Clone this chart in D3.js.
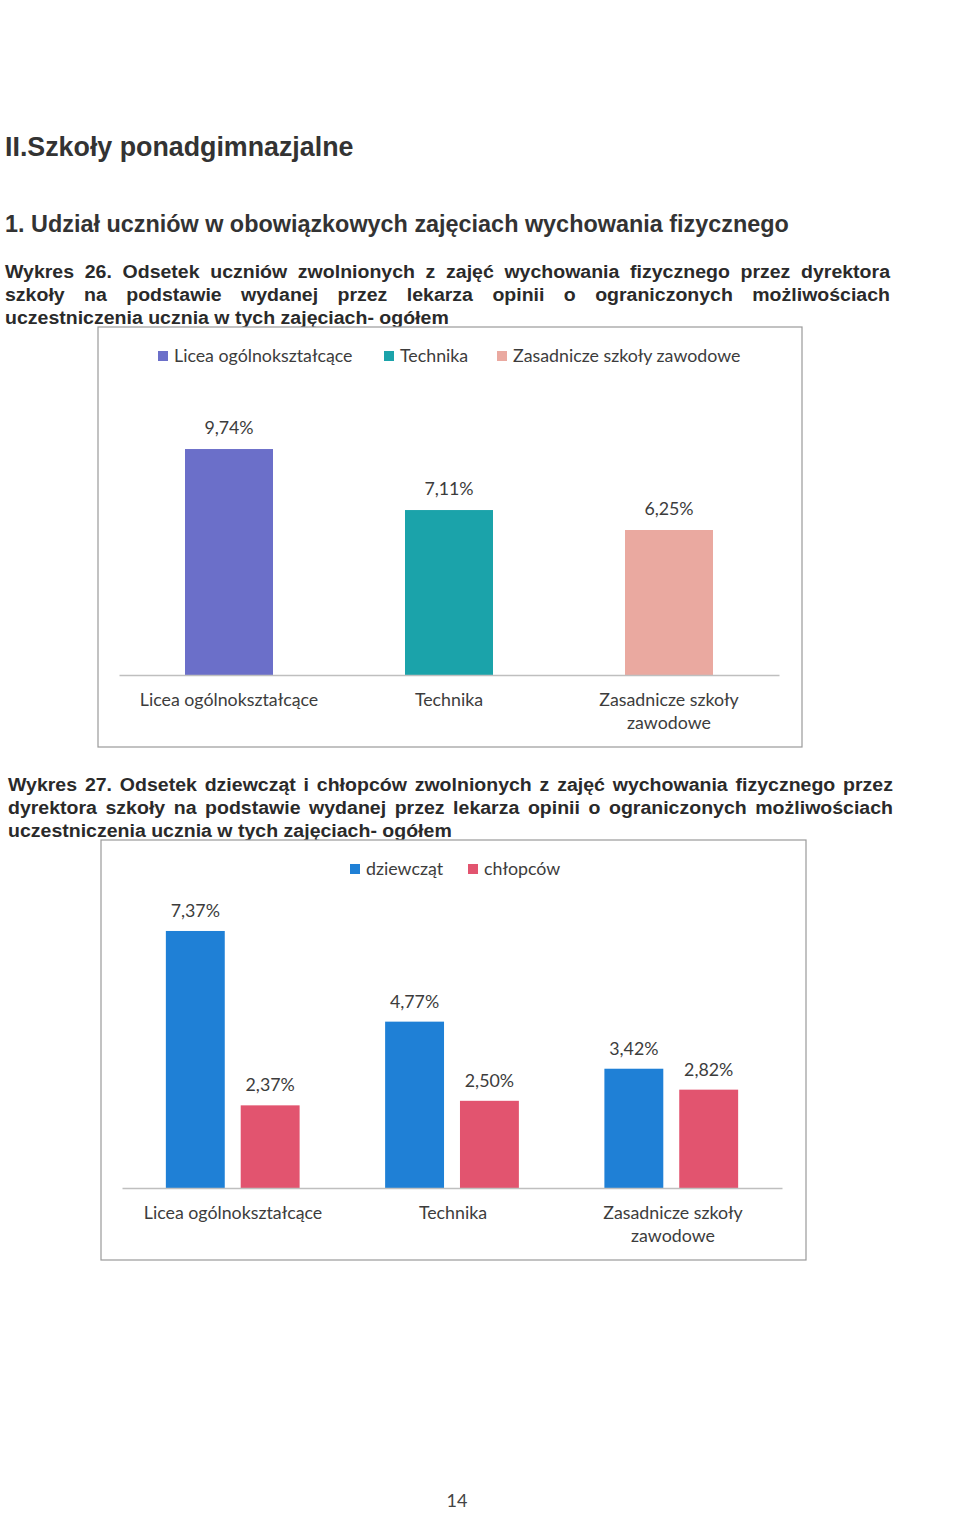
<!DOCTYPE html>
<html><head><meta charset="utf-8">
<script src="https://cdn.jsdelivr.net/npm/d3@7"></script>
<style>body{margin:0;background:#fff}svg{display:block}</style>
</head><body>
<svg id="page" width="960" height="1520"></svg>
<script>
// ---------- data ----------
const categories = ["Licea ogólnokształcące", "Technika", "Zasadnicze szkoły zawodowe"];
const categoryLines = [["Licea ogólnokształcące"], ["Technika"], ["Zasadnicze szkoły", "zawodowe"]];
const totalValues = [9.74, 7.11, 6.25];
const genderSeries = ["dziewcząt", "chłopców"];
const girlsValues = [7.37, 4.77, 3.42];
const boysValues = [2.37, 2.50, 2.82];

const chart1Colors = ["#6b6fc9", "#1ba3aa", "#eaa9a0"];
const chart2Colors = ["#1f80d6", "#e2546f"];

const heading1 = "II.Szkoły ponadgimnazjalne";
const heading2 = "1. Udział uczniów w obowiązkowych zajęciach wychowania fizycznego";
const caption26 = ["Wykres 26. Odsetek uczniów zwolnionych z zajęć wychowania fizycznego przez dyrektora",
  "szkoły na podstawie wydanej przez lekarza opinii o ograniczonych możliwościach",
  "uczestniczenia ucznia w tych zajęciach- ogółem"];
const caption27 = ["Wykres 27. Odsetek dziewcząt i chłopców zwolnionych z zajęć wychowania fizycznego przez",
  "dyrektora szkoły na podstawie wydanej przez lekarza opinii o ograniczonych możliwościach",
  "uczestniczenia ucznia w tych zajęciach- ogółem"];

const fmt = v => d3.format(".2f")(v).replace(".", ",") + "%";

const svg = d3.select("#page");
const docFont = "'Liberation Sans', Arial, sans-serif";
const chartFont = "Lato, 'Open Sans', sans-serif";
const chartText = "#3c3c3c";
const chartSize = 17.8;

svg.append("text").attr("x", 5).attr("y", 156).attr("font-family", docFont)
  .attr("font-weight", "bold").attr("font-size", 26.8).attr("fill", "#333").text(heading1);
svg.append("text").attr("x", 5).attr("y", 232).attr("font-family", docFont)
  .attr("font-weight", "bold").attr("font-size", 23.4).attr("fill", "#333").text(heading2);

function caption(lines, x0, x1, y0, lastWidth) {
  const g = svg.append("g").attr("font-family", docFont).attr("font-weight", "bold")
    .attr("font-size", 19).attr("fill", "#2a2a2a");
  // measure last line to derive the condensed horizontal scale
  const probe = g.append("text").text(lines[lines.length - 1]);
  const sx = lastWidth / probe.node().getComputedTextLength();
  probe.remove();
  g.attr("transform", `translate(${x0},0) scale(${sx},1)`);
  const W = (x1 - x0) / sx;
  lines.forEach((line, li) => {
    const y = y0 + li * 23;
    const words = line.split(" ");
    const nodes = words.map(w => g.append("text").attr("y", y).text(w));
    const widths = nodes.map(n => n.node().getComputedTextLength());
    const justify = li < lines.length - 1;
    const space = justify ? (W - d3.sum(widths)) / (words.length - 1) : 5.3;
    let x = 0;
    nodes.forEach((n, i) => { n.attr("x", x); x += widths[i] + space; });
  });
}
caption(caption26, 5, 890, 278, 444);
caption(caption27, 8, 893, 791, 444);

// ---------- chart 1 ----------
(function () {
  const fx = 98, fy = 327, fw = 704, fh = 420;
  svg.append("rect").attr("x", fx).attr("y", fy).attr("width", fw).attr("height", fh)
    .attr("fill", "#fff").attr("stroke", "#9a9a9a").attr("stroke-width", 1.2);
  const x = d3.scaleBand().domain(categories).range([119, 779]).paddingInner(0.6).paddingOuter(0.3);
  const y = d3.scaleLinear().domain([0, 10]).range([675, 443]);
  svg.append("g").selectAll("rect").data(totalValues).join("rect")
    .attr("x", (d, i) => x(categories[i])).attr("width", x.bandwidth())
    .attr("y", d => y(d)).attr("height", d => y(0) - y(d))
    .attr("fill", (d, i) => chart1Colors[i]);
  svg.append("g").selectAll("text").data(totalValues).join("text")
    .attr("x", (d, i) => x(categories[i]) + x.bandwidth() / 2).attr("y", d => y(d) - 15)
    .attr("text-anchor", "middle").attr("font-family", chartFont).attr("font-size", chartSize)
    .attr("fill", chartText).text(d => fmt(d));
  const axis = svg.append("g").attr("transform", `translate(0,${y(0)})`)
    .call(d3.axisBottom(x).tickSize(0).tickFormat(""));
  axis.select(".domain").attr("stroke", "#bfbfbf").attr("stroke-width", 1.3);
  categories.forEach((c, i) => {
    const cx = x(c) + x.bandwidth() / 2;
    const t = svg.append("text").attr("y", 706)
      .attr("text-anchor", "middle").attr("font-family", chartFont).attr("font-size", chartSize).attr("fill", chartText);
    categoryLines[i].forEach((l, j) => t.append("tspan").attr("x", cx).attr("dy", j ? 23 : 0).text(l));
  });
  const legendX = [158, 384, 497];
  categories.forEach((c, i) => {
    svg.append("rect").attr("x", legendX[i]).attr("y", 351).attr("width", 10).attr("height", 10).attr("fill", chart1Colors[i]);
    svg.append("text").attr("x", legendX[i] + 16).attr("y", 362).attr("font-family", chartFont)
      .attr("font-size", chartSize).attr("fill", chartText).text(c);
  });
})();

// ---------- chart 2 ----------
(function () {
  const fx = 101, fy = 840, fw = 705, fh = 420;
  svg.append("rect").attr("x", fx).attr("y", fy).attr("width", fw).attr("height", fh)
    .attr("fill", "#fff").attr("stroke", "#9a9a9a").attr("stroke-width", 1.2);
  const x0 = d3.scaleBand().domain(categories).range([122, 782]).paddingInner(0.39).paddingOuter(0.2);
  const x1 = d3.scaleBand().domain(genderSeries).range([0, x0.bandwidth()]).paddingInner(0.213);
  const y = d3.scaleLinear().domain([0, 8]).range([1188, 909]);
  const rows = categories.map((c, i) => ({ c, vals: [girlsValues[i], boysValues[i]] }));
  const grp = svg.append("g").selectAll("g").data(rows).join("g")
    .attr("transform", d => `translate(${x0(d.c)},0)`);
  grp.selectAll("rect").data(d => d.vals.map((v, k) => ({ k, v }))).join("rect")
    .attr("x", d => x1(genderSeries[d.k])).attr("width", x1.bandwidth())
    .attr("y", d => y(d.v)).attr("height", d => y(0) - y(d.v)).attr("fill", d => chart2Colors[d.k]);
  grp.selectAll("text").data(d => d.vals.map((v, k) => ({ k, v }))).join("text")
    .attr("x", d => x1(genderSeries[d.k]) + x1.bandwidth() / 2).attr("y", d => y(d.v) - 14)
    .attr("text-anchor", "middle").attr("font-family", chartFont).attr("font-size", chartSize)
    .attr("fill", chartText).text(d => fmt(d.v));
  const axis = svg.append("g").attr("transform", `translate(0,${y(0)})`)
    .call(d3.axisBottom(x0).tickSize(0).tickFormat(""));
  axis.select(".domain").attr("stroke", "#bfbfbf").attr("stroke-width", 1.3);
  categories.forEach((c, i) => {
    const cx = 123 + (i + 0.5) * 220;
    const t = svg.append("text").attr("y", 1219)
      .attr("text-anchor", "middle").attr("font-family", chartFont).attr("font-size", chartSize).attr("fill", chartText);
    categoryLines[i].forEach((l, j) => t.append("tspan").attr("x", cx).attr("dy", j ? 23 : 0).text(l));
  });
  const legendX = [350, 468];
  genderSeries.forEach((s, i) => {
    svg.append("rect").attr("x", legendX[i]).attr("y", 864).attr("width", 10).attr("height", 10).attr("fill", chart2Colors[i]);
    svg.append("text").attr("x", legendX[i] + 16).attr("y", 875).attr("font-family", chartFont)
      .attr("font-size", chartSize).attr("fill", chartText).text(s);
  });
})();

svg.append("text").attr("x", 457).attr("y", 1507).attr("text-anchor", "middle")
  .attr("font-family", chartFont).attr("font-size", 18).attr("fill", "#444").text("14");
</script>
</body></html>
